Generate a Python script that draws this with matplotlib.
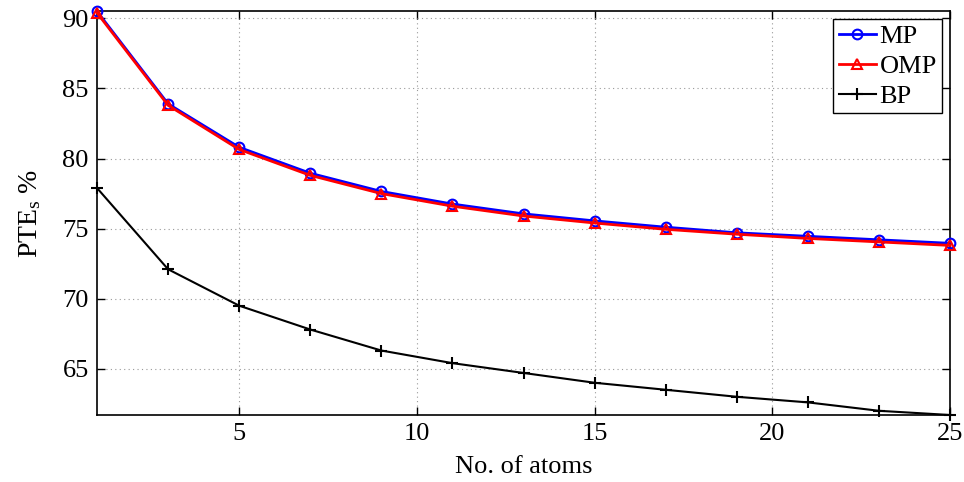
import matplotlib
matplotlib.use("Agg")
import matplotlib.pyplot as plt

plt.rcParams["font.family"] = ["Liberation Serif", "DejaVu Serif"]
plt.rcParams["mathtext.fontset"] = "custom"
plt.rcParams["mathtext.rm"] = "Liberation Serif"
plt.rcParams["mathtext.it"] = "Liberation Serif"

# data
atoms = [1, 3, 5, 7, 9, 11, 13, 15, 17, 19, 21, 23, 25]
mp = [90.5, 83.9, 80.8, 78.95, 77.65, 76.75, 76.05, 75.55, 75.1, 74.7, 74.45, 74.2, 73.95]
omp = [90.4, 83.8, 80.65, 78.8, 77.5, 76.6, 75.9, 75.4, 74.95, 74.6, 74.3, 74.05, 73.8]
bp = [77.9, 72.1, 69.5, 67.8, 66.3, 65.4, 64.7, 64.0, 63.5, 63.0, 62.6, 62.0, 61.7]

fs = 19

fig = plt.figure(figsize=(9.64, 4.82), dpi=100)
ax = fig.add_axes([0.1006, 0.139, 0.885, 0.838])

ax.plot(atoms, mp, color="blue", marker="o", markersize=7, markerfacecolor="none",
        markeredgewidth=1.5, linewidth=2, label="MP", clip_on=False, zorder=3)
ax.plot(atoms, omp, color="red", marker="^", markersize=7, markerfacecolor="none",
        markeredgewidth=1.5, linewidth=2, label="OMP", clip_on=False, zorder=4)
ax.plot(atoms, bp, color="black", marker="+", markersize=9, markeredgewidth=1.5,
        linewidth=1.5, label="BP", clip_on=False, zorder=3)

ax.set_xlim(1, 25)
ax.set_ylim(61.7, 90.52)
ax.set_xticks([5, 10, 15, 20, 25])
ax.set_yticks([65, 70, 75, 80, 85, 90])
ax.grid(True, linestyle=(0, (1, 3)), color="#999999", linewidth=0.8)
ax.tick_params(direction="in", top=True, right=True, labelsize=fs, length=6, width=1, pad=6)
for s in ax.spines.values():
    s.set_linewidth(1.2)

ax.set_xlabel("No. of atoms", fontsize=fs, labelpad=8)
ax.set_ylabel("PTE$_{\\mathrm{s}}$ %", fontsize=20, labelpad=14)

leg = ax.legend(loc="upper right", fontsize=fs, fancybox=False, framealpha=1,
                edgecolor="black", handlelength=1.4, handletextpad=0.15,
                borderpad=0.2, labelspacing=0.25, borderaxespad=0.3)
leg.get_frame().set_linewidth(1)

fig.savefig("out.png", dpi=100)
